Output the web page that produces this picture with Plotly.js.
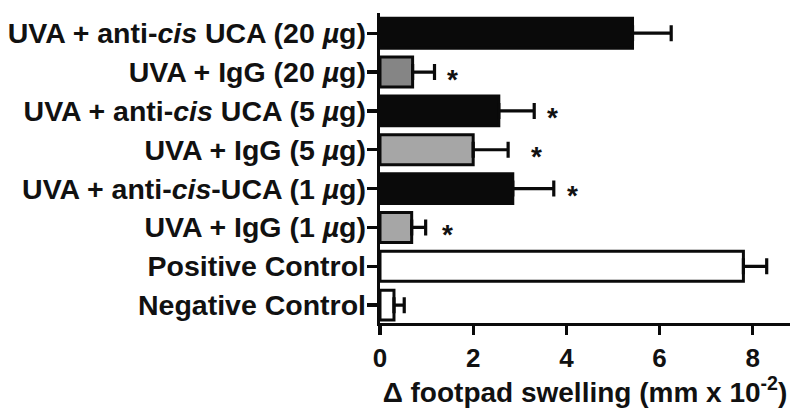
<!DOCTYPE html>
<html>
<head>
<meta charset="utf-8">
<script src="https://cdn.plot.ly/plotly-3.0.1.min.js"></script>
<style>html,body{margin:0;padding:0;background:#fff;}#chart{width:800px;height:410px;}</style>
</head>
<body>
<div id="chart"></div>
<script>
// Categories, top to bottom
const categories = [
  "UVA + anti-<i>cis</i> UCA (20 <i>µ</i>g)",
  "UVA + IgG (20 <i>µ</i>g)",
  "UVA + anti-<i>cis</i> UCA (5 <i>µ</i>g)",
  "UVA + IgG (5 <i>µ</i>g)",
  "UVA + anti-<i>cis</i>-UCA (1 <i>µ</i>g)",
  "UVA + IgG (1 <i>µ</i>g)",
  "Positive Control",
  "Negative Control"
];
const values = [5.42, 0.70, 2.55, 2.00, 2.85, 0.68, 7.80, 0.30];
const errors = [0.83, 0.47, 0.76, 0.75, 0.88, 0.30, 0.50, 0.22];
const fills  = ["#0a0a0a", "#858585", "#0a0a0a", "#a6a6a6", "#0a0a0a", "#a6a6a6", "#ffffff", "#ffffff"];
const significant = [false, true, true, true, true, true, false, false];
const starX = [null, 1.56, 3.71, 3.35, 4.13, 1.44, null, null];
const xTicks = [0, 2, 4, 6, 8];

const FONT = "Liberation Sans, Arial, Helvetica, sans-serif";
const ids = categories.map((c, i) => i);

const bar = {
  type: "bar",
  orientation: "h",
  y: ids,
  x: values,
  width: 0.77,
  marker: { color: fills, line: { color: "#0a0a0a", width: 3 } },
  error_x: {
    type: "data", symmetric: false, array: errors,
    arrayminus: values.map(() => 0),
    color: "#0a0a0a", thickness: 3.2, width: 8
  },
  hoverinfo: "none",
  showlegend: false
};

const annotations = [];
significant.forEach((s, i) => {
  if (s) annotations.push({
    x: starX[i], y: i, xref: "x", yref: "y", text: "*", showarrow: false,
    yshift: -7,
    font: { family: FONT, size: 28, color: "#111", weight: "bold" }
  });
});

const layout = {
  width: 800, height: 410,
  margin: { l: 380, r: 10, t: 13, b: 87 },
  paper_bgcolor: "#fff", plot_bgcolor: "#fff",
  xaxis: {
    range: [0, 8.8], tickvals: xTicks, ticktext: xTicks.map(String),
    showgrid: false, zeroline: false,
    showline: true, linecolor: "#0a0a0a", linewidth: 3.3,
    ticks: "outside", ticklen: 9, tickwidth: 3.3, tickcolor: "#0a0a0a",
    tickfont: { family: FONT, size: 26, color: "#111", weight: "bold" },
    title: { text: "Δ footpad swelling (mm x 10<sup>-2</sup>)", standoff: 4,
      font: { family: FONT, size: 28, color: "#111", weight: "bold" } }
  },
  yaxis: {
    range: [7.46, -0.52], tickvals: ids, ticktext: categories,
    showgrid: false, zeroline: false,
    showline: true, linecolor: "#0a0a0a", linewidth: 3.3,
    ticks: "outside", ticklen: 10, tickwidth: 3.3, tickcolor: "#0a0a0a",
    ticklabelstandoff: -5,
    tickfont: { family: FONT, size: 28.5, color: "#111", weight: "bold" }
  },
  annotations: annotations
};

Plotly.newPlot("chart", [bar], layout, { staticPlot: true, displayModeBar: false });
</script>
</body>
</html>
